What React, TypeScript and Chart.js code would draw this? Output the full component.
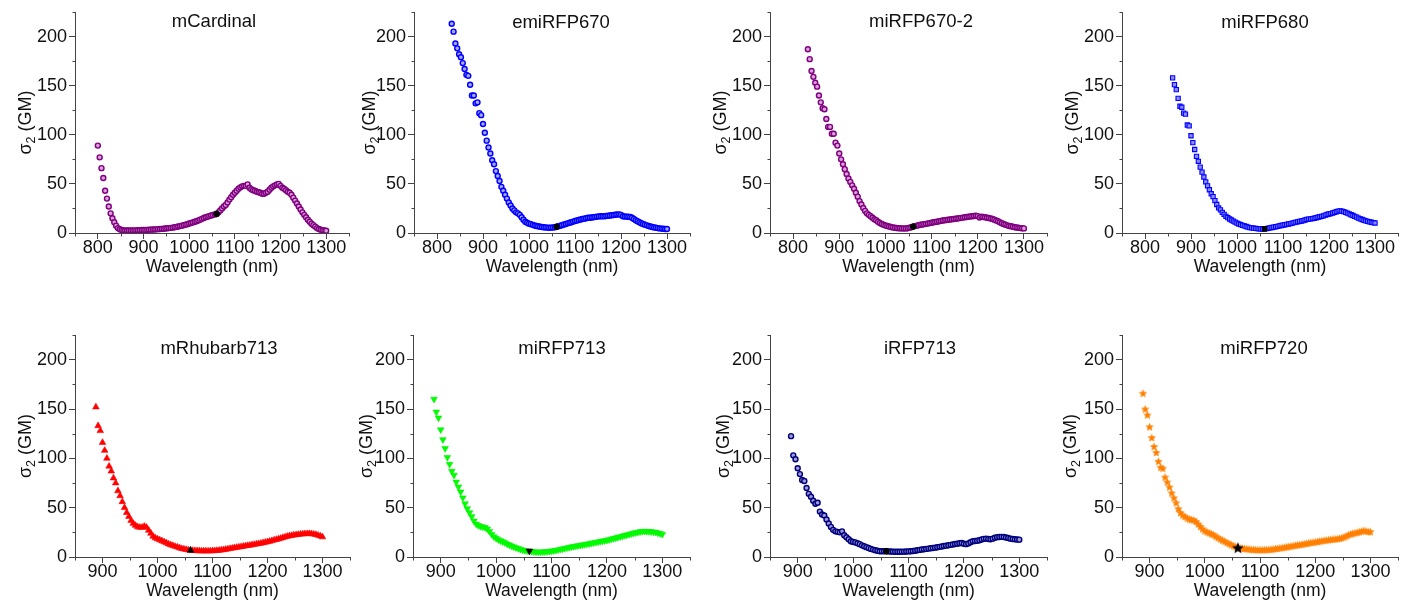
import React, { useEffect, useRef } from 'react';
import { Chart, registerables } from 'chart.js';

Chart.register(...registerables);

const FONT = '"Liberation Sans", Arial, sans-serif';

// Excitation wavelengths (nm), shared grid; every series ends at 1300 nm
const WAVELENGTHS = [
  800, 804, 808, 812, 816, 820, 824, 828, 832, 836,
  840, 844, 848, 852, 856, 860, 864, 868, 872, 876,
  880, 884, 888, 892, 896, 900, 904, 908, 912, 916,
  920, 924, 928, 932, 936, 940, 944, 948, 952, 956,
  960, 964, 968, 972, 976, 980, 984, 988, 992, 996,
  1000, 1004, 1008, 1012, 1016, 1020, 1024, 1028, 1032, 1036,
  1040, 1044, 1048, 1052, 1056, 1060, 1064, 1068, 1072, 1076,
  1080, 1084, 1088, 1092, 1096, 1100, 1104, 1108, 1112, 1116,
  1120, 1124, 1128, 1132, 1136, 1140, 1144, 1148, 1152, 1156,
  1160, 1164, 1168, 1172, 1176, 1180, 1184, 1188, 1192, 1196,
  1200, 1204, 1208, 1212, 1216, 1220, 1224, 1228, 1232, 1236,
  1240, 1244, 1248, 1252, 1256, 1260, 1264, 1268, 1272, 1276,
  1280, 1284, 1288, 1292, 1296, 1300,
];

const HIGHLIGHT_NM = 1060;

const X_TICK_LABELS_TOP = [800, 900, 1000, 1100, 1200, 1300];
const X_TICK_LABELS_BOTTOM = [900, 1000, 1100, 1200, 1300];
const Y_TICK_LABELS = [0, 50, 100, 150, 200];
const X_MINOR_STEP = 50;
const Y_MINOR_STEP = 25;

// sigma2 (GM) values, 800..1300 nm
const M_CARDINAL = [
  89, 77, 66, 56, 43, 35, 27, 20, 15, 11,
  7.5, 5, 3.8, 3, 2.6, 2.5, 2.5, 2.5, 2.6, 2.6,
  2.7, 2.7, 2.8, 2.9, 3, 3, 3.1, 3.2, 3.3, 3.4,
  3.5, 3.6, 3.7, 3.9, 4, 4.2, 4.4, 4.6, 4.8, 5,
  5.2, 5.5, 5.8, 6.2, 6.6, 7, 7.5, 8, 8.5, 9,
  9.6, 10.2, 10.8, 11.4, 12, 12.8, 13.6, 14.4, 15.2, 16,
  16.6, 17.2, 17.8, 18.4, 19, 19.4, 21, 23, 25, 27,
  28.5, 31, 34, 36.5, 39, 41, 43, 45, 46.5, 47.5,
  48, 48, 49.5, 46, 44.5, 43.5, 43, 42, 41.5, 41,
  40, 40, 41, 42, 44, 46, 47.5, 48.5, 49.5, 50,
  48, 46, 45, 43.5, 42, 41, 39, 36, 33, 30,
  27, 24, 21, 18.5, 16, 13.5, 11.5, 9.5, 8, 6.5,
  5, 4, 3.3, 2.8, 2.5, 2.3,
];

// 832..1300 nm
const EMIRFP670 = [
  213, 205, 193, 188, 182, 179, 173, 167, 161, 160,
  151, 140, 140, 132, 133, 122, 120, 111, 102, 94,
  87, 81, 74, 70, 63, 58, 53, 47, 43, 39,
  35, 31, 28, 25, 23, 21, 20, 18.5, 16, 13.5,
  11.5, 10.5, 9.5, 9, 8.3, 7.7, 7.2, 6.8, 6.4, 6.1,
  5.9, 5.7, 5.5, 5.4, 5.5, 5.6, 5.8, 6.3, 6.8, 7.4,
  8, 8.6, 9.2, 9.8, 10.4, 11, 11.6, 12.2, 12.7, 13.2,
  13.7, 14.2, 14.6, 15, 15.5, 15.5, 15.8, 16.1, 16.4, 16.7,
  16.9, 17, 17, 17.1, 17.3, 17.5, 17.8, 18.1, 18.4, 18.6,
  18.8, 19, 18.5, 17, 16.8, 16.7, 16.6, 16.3, 15.5, 14.2,
  13, 12, 11, 10, 9.2, 8.5, 7.8, 7.2, 6.6, 6.1,
  5.7, 5.3, 5, 4.7, 4.5, 4.3, 4.1, 4,
];

// 832..1300 nm
const MIRFP670_2 = [
  187, 177, 165, 159, 153, 149, 140, 133, 127, 126,
  116, 108, 108, 101, 101, 92, 89, 81, 75, 70,
  65, 60, 55.5, 52, 48.5, 45, 41, 37, 32.5, 29,
  25.5, 22.5, 20, 18.5, 17, 15.5, 14, 13, 11.5, 10.2,
  9.2, 8.4, 7.7, 7.1, 6.6, 6.1, 5.7, 5.4, 5.1, 4.9,
  4.8, 4.7, 4.7, 4.7, 4.9, 5.3, 5.8, 6.5, 7, 7.5,
  8, 8.4, 8.7, 9, 9.3, 9.7, 10.1, 10.5, 10.9, 11.2,
  11.5, 11.9, 12.3, 12.7, 13, 13.2, 13.5, 13.8, 14, 14.2,
  14.5, 14.8, 15.1, 15.4, 15.7, 16, 16.3, 16.6, 16.9, 17.1,
  17.3, 17.5, 17.2, 15.8, 16.5, 16.3, 16, 15.6, 15.2, 14.8,
  14.3, 13.6, 12.8, 12, 11, 10, 9.2, 8.5, 7.8, 7.2,
  6.8, 6.3, 5.9, 5.6, 5.3, 5, 4.8, 4.7,
];

// 860..1300 nm
const MIRFP680 = [
  158, 151, 146, 137, 129, 128, 122, 121, 110, 109,
  99, 92, 85, 78, 73, 67, 62, 57, 52, 48,
  44, 40, 37, 33, 29, 25.5, 23.5, 21, 19, 17,
  15.7, 14.3, 13.2, 12.1, 11, 10, 9.2, 8.5, 7.8, 7.2,
  6.6, 6, 5.5, 5.2, 4.9, 4.7, 4.5, 4.3, 4.2, 4.1,
  4.2, 4.4, 4.8, 5.2, 5.6, 6, 6.4, 6.8, 7.2, 7.6,
  8, 8.4, 8.8, 9.2, 9.6, 10, 10.5, 11, 11.4, 11.8,
  12.2, 12.6, 13.2, 13.8, 14.2, 14.4, 14.6, 15, 15.5, 16,
  16.5, 17, 17.5, 18.2, 18.8, 19.3, 19.8, 20.4, 21, 21.6,
  22.2, 22.6, 22.3, 21.8, 21, 20.2, 19.4, 18.6, 17.8, 17,
  16.1, 15.2, 14.4, 13.7, 13, 12.4, 11.9, 11.3, 10.9, 10.5,
  10.2,
];

// 888..1300 nm
const MRHUBARB713 = [
  152, 133, 128, 116, 108, 100, 92, 87, 80, 75,
  67, 62, 56, 50, 45, 41, 37, 34, 32, 30.5,
  30, 30, 31, 30, 27, 24, 21, 19.3, 18.3, 17.3,
  16.3, 15.3, 14.3, 13.2, 12.3, 11.5, 10.7, 10, 9.2, 8.5,
  8, 7.5, 7.1, 6.8, 6.6, 6.4, 6.3, 6.2, 6.1, 6.1,
  6.1, 6.1, 6.1, 6.2, 6.4, 6.5, 6.7, 7, 7.3, 7.7,
  8.1, 8.5, 8.9, 9.3, 9.7, 10, 10.4, 10.8, 11.2, 11.6,
  11.9, 12.3, 12.7, 13.1, 13.5, 13.9, 14.4, 14.9, 15.4, 15.9,
  16.5, 17.1, 17.7, 18.3, 18.9, 19.6, 20.3, 20.9, 21.4, 21.8,
  22.2, 22.5, 22.8, 23.1, 23.3, 23.5, 23.6, 23.7, 23.5, 23.1,
  22.7, 22, 21.2, 20.3,
];

// 888..1300 nm
const MIRFP713 = [
  160, 147, 141, 129, 119, 110, 101, 94, 87, 83,
  76, 71, 66, 60, 54, 49, 45, 41, 36.5, 33.5,
  32, 31, 30.5, 30, 28.5, 26, 23, 20.5, 19, 17.6,
  16.5, 15.5, 14.5, 13.3, 12.2, 11.2, 10.3, 9.4, 8.6, 7.8,
  7.1, 6.6, 6.3, 6.1, 5.6, 5.3, 5.1, 5.1, 5.1, 5.2,
  5.3, 5.5, 5.8, 6.1, 6.4, 6.8, 7.3, 7.8, 8.3, 8.8,
  9.3, 9.8, 10.3, 10.7, 11.1, 11.5, 11.9, 12.3, 12.7, 13.1,
  13.5, 14, 14.4, 14.9, 15.3, 15.8, 16.2, 16.6, 17, 17.6,
  18.2, 18.8, 19.4, 20, 20.6, 21.2, 21.8, 22.4, 23, 23.6,
  24.2, 24.7, 25.2, 25.6, 26, 26.1, 26, 25.9, 25.7, 25.4,
  25.1, 24.5, 23.8, 23,
];

// 888..1300 nm
const IRFP713 = [
  122.5, 103, 99, 90, 84, 78, 77, 70, 64, 61,
  57, 54, 55, 46, 43, 42, 38, 34, 30.5, 27.5,
  26, 25.5, 25, 26, 22, 20, 18, 16, 15.3, 14.8,
  14, 13, 11.8, 10.9, 10, 9.1, 8.2, 7.5, 6.8, 6.3,
  5.9, 5.8, 5.8, 5.9, 5.7, 5.5, 5.4, 5.3, 5.3, 5.3,
  5.4, 5.4, 5.5, 5.7, 5.9, 6.1, 6.4, 6.8, 7.2, 7.6,
  7.9, 8.2, 8.5, 8.8, 9.1, 9.5, 9.9, 10.3, 10.7, 11.1,
  11.5, 11.9, 12.3, 12.7, 13.1, 13.5, 13.9, 14.2, 13.5, 13,
  13.8, 15, 15.9, 16.2, 16.5, 17, 17.7, 18.4, 18.6, 18.2,
  18, 18.6, 19.5, 20.1, 20.3, 20.4, 20.3, 19.8, 19.2, 18.6,
  18.2, 18, 17.8, 17.6,
];

// 888..1300 nm
const MIRFP720 = [
  166, 150, 144, 132, 121, 112, 106, 97, 91, 90,
  81, 76, 71, 65, 60, 55, 49, 45, 42.5, 41,
  39.5, 38.5, 38, 37.5, 36, 33.5, 31, 28.5, 26.5, 25.5,
  24.5, 23.5, 22.5, 21, 19.5, 18.3, 17, 16, 14.8, 13.6,
  12.5, 11.4, 10.4, 9.5, 9.2, 8.9, 8.6, 8.4, 8.1, 7.8,
  7.6, 7.5, 7.4, 7.4, 7.4, 7.4, 7.5, 7.7, 7.9, 8.2,
  8.5, 8.8, 9.2, 9.5, 9.9, 10.3, 10.7, 11.1, 11.5, 11.9,
  12.3, 12.6, 13, 13.4, 13.8, 14.2, 14.6, 15, 15.3, 15.7,
  16.1, 16.5, 16.9, 17.2, 17.5, 17.8, 18.1, 18.3, 18.6, 19,
  19.5, 20.2, 21.2, 22.4, 23.3, 24, 24.5, 25, 25.5, 26.2,
  26.8, 26.5, 25.8, 25.6,
];

type Marker = 'ring' | 'square' | 'up' | 'down' | 'star';

type PanelSpec = {
  name: string;
  values: number[];
  color: string;
  fill: string;
  marker: Marker;
  xMin: number;
  xLabels: number[];
  box: [number, number, number, number]; // chart area: left, top, right, bottom
  titleX: number;
  titleY: number;
  yTitleX: number;
};

const PANELS: PanelSpec[] = [
  { name: 'mCardinal', values: M_CARDINAL, color: '#800080', fill: '#d9a3d9', marker: 'ring', xMin: 750, xLabels: X_TICK_LABELS_TOP, box: [75, 12, 349, 233], titleX: 214, titleY: 22, yTitleX: 24 },
  { name: 'emiRFP670', values: EMIRFP670, color: '#0000ff', fill: '#a8a8ff', marker: 'ring', xMin: 750, xLabels: X_TICK_LABELS_TOP, box: [414, 12, 690, 233], titleX: 561, titleY: 23, yTitleX: 368 },
  { name: 'miRFP670-2', values: MIRFP670_2, color: '#800080', fill: '#d9a3d9', marker: 'ring', xMin: 750, xLabels: X_TICK_LABELS_TOP, box: [770, 12, 1047, 233], titleX: 921, titleY: 22, yTitleX: 719 },
  { name: 'miRFP680', values: MIRFP680, color: '#0000ff', fill: '#8c8cff', marker: 'square', xMin: 750, xLabels: X_TICK_LABELS_TOP, box: [1122, 12, 1398, 233], titleX: 1265, titleY: 23, yTitleX: 1071 },
  { name: 'mRhubarb713', values: MRHUBARB713, color: '#ff0000', fill: '#ff0000', marker: 'up', xMin: 850, xLabels: X_TICK_LABELS_BOTTOM, box: [75, 335, 350, 557], titleX: 219, titleY: 349, yTitleX: 24 },
  { name: 'miRFP713', values: MIRFP713, color: '#00f000', fill: '#00ff00', marker: 'down', xMin: 850, xLabels: X_TICK_LABELS_BOTTOM, box: [413, 335, 690, 557], titleX: 562, titleY: 349, yTitleX: 365 },
  { name: 'iRFP713', values: IRFP713, color: '#000080', fill: '#9c9cd0', marker: 'ring', xMin: 850, xLabels: X_TICK_LABELS_BOTTOM, box: [770, 335, 1047, 557], titleX: 920, titleY: 349, yTitleX: 722 },
  { name: 'miRFP720', values: MIRFP720, color: '#ff8000', fill: '#ff8000', marker: 'star', xMin: 850, xLabels: X_TICK_LABELS_BOTTOM, box: [1122, 335, 1398, 557], titleX: 1264, titleY: 349, yTitleX: 1069 },
];

const X_MAX = 1350;
const Y_MIN = 0;
const Y_MAX = 225;

const Y_AXIS_W = 75;
const X_AXIS_H = 50;
const PAD_T = 14;
const PAD_R = 12;
const MAJOR_LEN = 6;
const MINOR_LEN = 3;
const AXIS_COLOR = '#444';

function makeStar(color: string, size: number): HTMLCanvasElement {
  const c = document.createElement('canvas');
  c.width = size;
  c.height = size;
  const ctx = c.getContext('2d')!;
  const cx = size / 2;
  const cy = size / 2 + size * 0.05;
  const R = size / 2;
  const r = R * 0.45;
  ctx.beginPath();
  for (let i = 0; i < 10; i++) {
    const a = -Math.PI / 2 + (i * Math.PI) / 5;
    const rad = i % 2 === 0 ? R : r;
    ctx.lineTo(cx + rad * Math.cos(a), cy + rad * Math.sin(a));
  }
  ctx.closePath();
  ctx.fillStyle = color;
  ctx.fill();
  return c;
}

function markerStyle(marker: Marker, color: string, fill: string, highlight: boolean): any {
  switch (marker) {
    case 'ring':
      return highlight
        ? { pointStyle: 'circle', pointRadius: 2.8, pointBorderWidth: 1, pointBorderColor: '#000', pointBackgroundColor: '#000' }
        : { pointStyle: 'circle', pointRadius: 2.5, pointBorderWidth: 1.4, pointBorderColor: color, pointBackgroundColor: fill };
    case 'square':
      return highlight
        ? { pointStyle: 'rect', pointRadius: 3.2, pointBorderWidth: 1, pointBorderColor: '#000', pointBackgroundColor: '#000' }
        : { pointStyle: 'rect', pointRadius: 3, pointBorderWidth: 1.1, pointBorderColor: color, pointBackgroundColor: fill };
    case 'up':
      return { pointStyle: 'triangle', pointRadius: 3.8, pointBorderWidth: 0.6, pointBorderColor: highlight ? '#000' : color, pointBackgroundColor: highlight ? '#000' : fill };
    case 'down':
      return { pointStyle: 'triangle', pointRotation: 180, pointRadius: 3.8, pointBorderWidth: 0.6, pointBorderColor: highlight ? '#000' : color, pointBackgroundColor: highlight ? '#000' : fill };
    case 'star':
      return { pointStyle: highlight ? makeStar('#000', 12) : makeStar(color, 9), pointRadius: 4.5 };
  }
}

function Panel({ spec }: { spec: PanelSpec }) {
  const ref = useRef<HTMLCanvasElement | null>(null);
  const [L, T, R, B] = spec.box;
  const left = L - Y_AXIS_W;
  const top = T - PAD_T;
  const width = R - L + Y_AXIS_W + PAD_R;
  const height = B - T + PAD_T + X_AXIS_H;

  useEffect(() => {
    const canvas = ref.current;
    if (!canvas) return;
    const offset = WAVELENGTHS.length - spec.values.length;
    const points = spec.values.map((y, i) => ({ x: WAVELENGTHS[offset + i], y }));
    const hi = points.filter((p) => p.x === HIGHLIGHT_NM);

    const textPlugin = {
      id: 'panelText',
      afterDraw(chart: any) {
        const ctx: CanvasRenderingContext2D = chart.ctx;
        const area = chart.chartArea;
        const xs = chart.scales.x;
        const ys = chart.scales.y;
        ctx.save();

        // minor ticks (positions from the library's scales)
        ctx.strokeStyle = AXIS_COLOR;
        ctx.lineWidth = 1;
        ctx.beginPath();
        const yb = Math.round(area.bottom) + 0.5;
        for (let v = xs.min; v <= xs.max + 1e-6; v += X_MINOR_STEP) {
          if (spec.xLabels.includes(v)) continue;
          const px = Math.round(xs.getPixelForValue(v)) + 0.5;
          ctx.moveTo(px, yb);
          ctx.lineTo(px, yb + MINOR_LEN);
        }
        const xl = Math.round(area.left) + 0.5;
        for (let v = ys.min; v <= ys.max + 1e-6; v += Y_MINOR_STEP) {
          if (Y_TICK_LABELS.includes(v)) continue;
          const py = Math.round(ys.getPixelForValue(v)) + 0.5;
          ctx.moveTo(xl, py);
          ctx.lineTo(xl - MINOR_LEN, py);
        }
        ctx.stroke();

        // panel title
        ctx.fillStyle = '#111';
        ctx.textAlign = 'center';
        ctx.textBaseline = 'middle';
        ctx.font = `18.5px ${FONT}`;
        ctx.fillText(spec.name, spec.titleX - left, spec.titleY - top);

        // y-axis title: sigma with subscript 2, then (GM)
        const big = `18px ${FONT}`;
        const small = `12.5px ${FONT}`;
        ctx.font = big;
        const wSigma = ctx.measureText('σ').width;
        const wRest = ctx.measureText(' (GM)').width;
        ctx.font = small;
        const wSub = ctx.measureText('2').width;
        const total = wSigma + wSub + wRest;
        ctx.translate(spec.yTitleX - left + 6.5, (area.top + area.bottom) / 2);
        ctx.rotate(-Math.PI / 2);
        ctx.textAlign = 'left';
        ctx.textBaseline = 'alphabetic';
        let x = -total / 2;
        ctx.font = big;
        ctx.fillText('σ', x, 0);
        x += wSigma;
        ctx.font = small;
        ctx.fillText('2', x, 4);
        x += wSub;
        ctx.font = big;
        ctx.fillText(' (GM)', x, 0);
        ctx.restore();
      },
    };

    const chart = new Chart(canvas, {
      type: 'scatter',
      data: {
        datasets: [
          { data: hi, order: 0, showLine: false, ...markerStyle(spec.marker, spec.color, spec.fill, true) },
          { data: points, order: 1, showLine: false, ...markerStyle(spec.marker, spec.color, spec.fill, false) },
        ],
      },
      options: {
        responsive: false,
        animation: false,
        events: [],
        layout: { padding: { left: 0, top: PAD_T, right: PAD_R, bottom: 0 } },
        plugins: { legend: { display: false }, tooltip: { enabled: false }, title: { display: false } },
        scales: {
          x: {
            type: 'linear',
            min: spec.xMin,
            max: X_MAX,
            afterFit: (s: any) => {
              s.height = X_AXIS_H;
            },
            afterBuildTicks: (s: any) => {
              s.ticks = spec.xLabels.map((v) => ({ value: v }));
            },
            ticks: {
              autoSkip: false,
              includeBounds: false,
              maxRotation: 0,
              minRotation: 0,
              padding: 0,
              color: '#111',
              font: { family: FONT, size: 18, lineHeight: 1 },
              callback: (v: any) => String(v),
            },
            grid: { drawOnChartArea: false, drawTicks: true, tickLength: MAJOR_LEN, tickColor: AXIS_COLOR, tickWidth: 1 },
            border: { display: true, color: AXIS_COLOR, width: 1 },
            title: {
              display: true,
              text: 'Wavelength (nm)',
              color: '#111',
              font: { family: FONT, size: 17.5 },
              padding: { top: 0, bottom: 5 },
            },
          },
          y: {
            type: 'linear',
            min: Y_MIN,
            max: Y_MAX,
            afterFit: (s: any) => {
              s.width = Y_AXIS_W;
            },
            afterBuildTicks: (s: any) => {
              s.ticks = Y_TICK_LABELS.map((v) => ({ value: v }));
            },
            ticks: {
              autoSkip: false,
              includeBounds: false,
              padding: 2,
              color: '#111',
              font: { family: FONT, size: 18 },
              callback: (v: any) => String(v),
            },
            grid: { drawOnChartArea: false, drawTicks: true, tickLength: MAJOR_LEN, tickColor: AXIS_COLOR, tickWidth: 1 },
            border: { display: true, color: AXIS_COLOR, width: 1 },
          },
        },
      } as any,
      plugins: [textPlugin],
    });
    return () => chart.destroy();
  }, [spec]);

  return (
    <canvas
      ref={ref}
      width={width}
      height={height}
      style={{ position: 'absolute', left, top, width, height }}
    />
  );
}

export default function App() {
  return (
    <div style={{ position: 'absolute', left: 0, top: 0, width: 1411, height: 607, background: '#fff', overflow: 'hidden' }}>
      {PANELS.map((p) => (
        <Panel key={p.name} spec={p} />
      ))}
    </div>
  );
}
